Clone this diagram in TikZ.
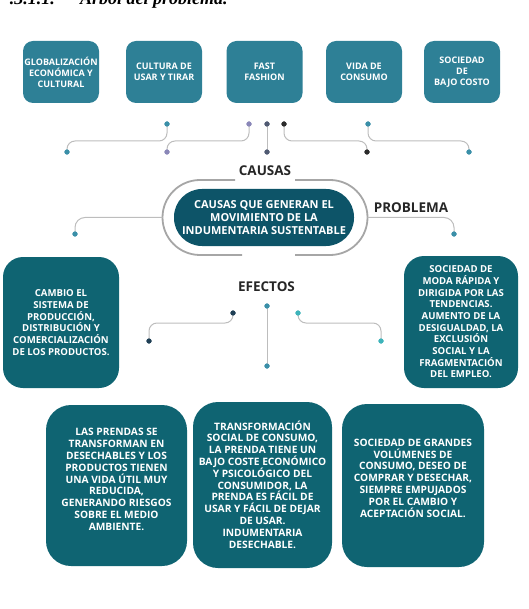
\documentclass[tikz,border=0pt]{standalone}
\usepackage{fontspec}
\setmainfont{Open Sans}
\newfontfamily\titlefont{Liberation Serif}
\definecolor{topteal}{HTML}{2E8096}
\definecolor{pillteal}{HTML}{0D5468}
\definecolor{boxteal}{HTML}{0F6472}
\definecolor{linegray}{HTML}{BDBDBD}
\definecolor{ringgray}{HTML}{A6A6A6}
\definecolor{dteal}{HTML}{3A8FA8}
\definecolor{dlav}{HTML}{8A87B8}
\definecolor{dslate}{HTML}{505A72}
\definecolor{ddark}{HTML}{2B2B2B}
\definecolor{dnavy}{HTML}{1F3F55}
\definecolor{dcyan}{HTML}{3DB3BA}
\tikzset{
  topbox/.style={fill=topteal, rounded corners=10pt, minimum width=76pt, minimum height=62pt, inner sep=0pt, text=white, align=center, font=\bfseries\fontsize{9}{11}\selectfont},
  sidebox/.style={fill=boxteal, rounded corners=20pt, inner sep=0pt, text=white, align=center, font=\bfseries\fontsize{9.6}{11.65}\selectfont},
  boxtext/.style={text=white, align=center, inner sep=0pt, font=\bfseries\fontsize{10.2}{11.8}\selectfont},
  heading/.style={font=\bfseries\fontsize{13.5}{15}\selectfont, text=black!85, inner sep=0pt},
  dotnode/.style={circle, fill=#1, minimum size=5pt, inner sep=0pt},
  conn/.style={draw=linegray, line width=1pt, rounded corners=8pt},
}
\begin{document}
\begin{tikzpicture}[x=1pt,y=-1pt]
\useasboundingbox (0,0) rectangle (528,609);
% title (cut off at top, as in the reference)
\node[anchor=base east, inner sep=0pt, font=\titlefont\bfseries\itshape\fontsize{18}{20}\selectfont] (tnum) at (55,5) {.3.1.1.};
\node[anchor=base west, inner sep=0pt, font=\titlefont\bfseries\itshape\fontsize{18}{20}\selectfont] (ttl) at (80,5) {Árbol del problema.};
% top boxes
\node[topbox] (c1) at (61,72) {GLOBALIZACIÓN\\ECONÓMICA Y\\CULTURAL};
\node[topbox] (c2) at (164,72) {CULTURA DE\\USAR Y TIRAR};
\node[topbox] (c3) at (264.5,72) {FAST\\FASHION};
\node[topbox] (c4) at (364,72) {VIDA DE\\CONSUMO};
\node[topbox] (c5) at (462,72) {SOCIEDAD\\DE\\BAJO COSTO};
% cause dots
\node[dotnode=dteal] (t1) at (167,124) {};
\node[dotnode=dlav] (t2) at (249,124) {};
\node[dotnode=dslate] (t3) at (267,124) {};
\node[dotnode=ddark] (t4) at (284,124) {};
\node[dotnode=dteal] (t5) at (368,124) {};
\node[dotnode=dteal] (b1) at (67,152) {};
\node[dotnode=dlav] (b2) at (167,152) {};
\node[dotnode=dslate] (b3) at (267,152) {};
\node[dotnode=ddark] (b4) at (367,152) {};
\node[dotnode=dteal] (b5) at (469,152) {};
\draw[conn] (t1.center) -- (167,141) -- (67,141) -- (b1.center);
\draw[conn] (t2.center) -- (249,141) -- (167,141) -- (b2.center);
\draw[conn] (t3.center) -- (b3.center);
\draw[conn] (t4.center) -- (284,141) -- (367,141) -- (b4.center);
\draw[conn] (t5.center) -- (368,141) -- (469,141) -- (b5.center);
% redraw dots on top
\foreach \n/\c in {t1/dteal,t2/dlav,t3/dslate,t4/ddark,t5/dteal,b1/dteal,b2/dlav,b3/dslate,b4/ddark,b5/dteal}
  \fill[\c] (\n.center) circle (2.6pt);
% headings
\node[heading] (causas) at (265,171) {CAUSAS};
\node[heading] (problema) at (411,208) {PROBLEMA};
\node[heading] (efectos) at (266.5,287) {EFECTOS};
% ring
\coordinate (oW) at (162.5,217.5);
\coordinate (oE) at (367.5,217.5);
\draw[ringgray, line width=1.8pt] (235,180) -- (200,180) arc[start angle=-90, end angle=-270, radius=37.5] -- (242,255);
\draw[ringgray, line width=1.8pt] (295,180) -- (330,180) arc[start angle=-90, end angle=90, radius=37.5] -- (295,255);
% central pill
\node[fill=pillteal, rounded corners=28pt, minimum width=180pt, minimum height=57pt, inner sep=0pt, text=white, align=center, font=\bfseries\fontsize{11}{13}\selectfont] (prob) at (264,217.5) {CAUSAS QUE GENERAN EL\\MOVIMIENTO DE LA\\INDUMENTARIA SUSTENTABLE};
% side lines
\node[dotnode=dteal] (pl) at (75,234) {};
\node[dotnode=dteal] (pr) at (454,234) {};
\draw[conn, rounded corners=10pt] (oW) -- (75,217.5) -- (pl.center);
\draw[conn, rounded corners=10pt] (oE) -- (454,217.5) -- (pr.center);
\fill[dteal] (pl.center) circle (2.6pt);
\fill[dteal] (pr.center) circle (2.6pt);
% side boxes
\node[sidebox, minimum width=116pt, minimum height=131pt] (e1) at (61,322.5) {CAMBIO EL\\SISTEMA DE\\PRODUCCIÓN,\\DISTRIBUCIÓN Y\\COMERCIALIZACIÓN\\DE LOS PRODUCTOS.};
\node[sidebox, minimum width=114pt, minimum height=132pt] (e2) at (461,322) {SOCIEDAD DE\\MODA RÁPIDA Y\\DIRIGIDA POR LAS\\TENDENCIAS.\\AUMENTO DE LA\\DESIGUALDAD, LA\\EXCLUSIÓN\\SOCIAL Y LA\\FRAGMENTACIÓN\\DEL EMPLEO.};
% effect dots
\node[dotnode=dnavy] (u1) at (233,313) {};
\node[dotnode=dteal] (u2) at (267,306) {};
\node[dotnode=dcyan] (u3) at (298,313) {};
\node[dotnode=dnavy] (v1) at (149,341) {};
\node[dotnode=dteal] (v2) at (267,366) {};
\node[dotnode=dcyan] (v3) at (381,341) {};
\draw[conn] (u1.center) -- (233,323) -- (149,323) -- (v1.center);
\draw[conn] (u2.center) -- (v2.center);
\draw[conn] (u3.center) -- (298,323) -- (381,323) -- (v3.center);
\foreach \n/\c in {u1/dnavy,u2/dteal,u3/dcyan,v1/dnavy,v2/dteal,v3/dcyan}
  \fill[\c] (\n.center) circle (2.6pt);
% bottom boxes
\node[fill=boxteal, rounded corners=25pt, minimum width=141pt, minimum height=161pt, inner sep=0pt] (f1) at (116.5,485.5) {};
\node[fill=boxteal, rounded corners=25pt, minimum width=139pt, minimum height=166pt, inner sep=0pt] (f2) at (262.5,485) {};
\node[fill=boxteal, rounded corners=25pt, minimum width=142pt, minimum height=163pt, inner sep=0pt] (f3) at (413,485.5) {};
\node[boxtext] (f1t) at (116.5,479.5) {LAS PRENDAS SE\\TRANSFORMAN EN\\DESECHABLES Y LOS\\PRODUCTOS TIENEN\\UNA VIDA ÚTIL MUY\\REDUCIDA,\\GENERANDO RIESGOS\\SOBRE EL MEDIO\\AMBIENTE.};
\node[boxtext] (f2t) at (262.5,484.5) {TRANSFORMACIÓN\\SOCIAL DE CONSUMO,\\LA PRENDA TIENE UN\\BAJO COSTE ECONÓMICO\\Y PSICOLÓGICO DEL\\CONSUMIDOR, LA\\PRENDA ES FÁCIL DE\\USAR Y FÁCIL DE DEJAR\\DE USAR.\\INDUMENTARIA\\DESECHABLE.};
\node[boxtext] (f3t) at (413,478) {SOCIEDAD DE GRANDES\\VOLÚMENES DE\\CONSUMO, DESEO DE\\COMPRAR Y DESECHAR,\\SIEMPRE EMPUJADOS\\POR EL CAMBIO Y\\ACEPTACIÓN SOCIAL.};
\end{tikzpicture}
\end{document}
